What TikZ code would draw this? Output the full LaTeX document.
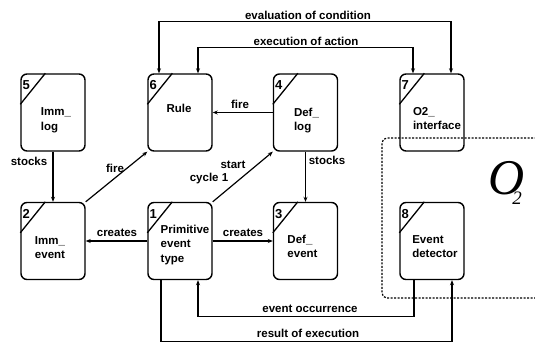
\documentclass[tikz,border=0pt]{standalone}
\usepackage{fontspec}
\setmainfont{Liberation Sans}
\newfontfamily\oserif{Liberation Serif}
\usetikzlibrary{arrows.meta,calc}
\tikzset{
 box/.style={draw, line width=1.4pt, rounded corners=6pt, minimum width=64pt, minimum height=77pt, inner sep=0pt},
 diagline/.style={line width=1.3pt},
 num/.style={font=\fontsize{13}{13}\selectfont\bfseries, inner sep=0pt},
 boxtext/.style={font=\fontsize{11.5}{14.5}\selectfont\bfseries, align=left, inner sep=0pt},
 lab/.style={font=\fontsize{11.5}{14}\selectfont\bfseries, inner sep=0pt},
 conn/.style={line width=1.2pt, -{Stealth[length=5pt,width=4pt]}},
 conntwo/.style={line width=1.2pt, {Stealth[length=5pt,width=4pt]}-{Stealth[length=5pt,width=4pt]}},
 region/.style={line width=1.2pt, dash pattern=on 2pt off 1.5pt, rounded corners=5pt},
}
\newcommand\mkbox[5]{%
 \node[box] (#1) at (#2) {};
 \draw[diagline] ([xshift=25pt]#1.north west) -- ([yshift=-31pt]#1.north west);
 \node[num] at ([xshift=6pt,yshift=-12pt]#1.north west) {#3};
 \node[boxtext] at ($(#1.center)+(#5)$) {#4};
}
\begin{document}
\begin{tikzpicture}[x=1pt,y=-1pt]
\useasboundingbox (0,0) rectangle (535,344);
% O2 region
\draw[region] (540,138) -- (382,138) -- (382,298) -- (540,298);
\node[inner sep=0pt, anchor=base west] (o2) at (488,195) {\oserif\itshape\fontsize{50}{50}\selectfont O\kern-12pt\raisebox{-10pt}{\fontsize{19}{19}\selectfont 2}};
% boxes
\mkbox{b5}{53,112.5}{5}{Imm\_\\log}{3,8}
\mkbox{b6}{180,112.5}{6}{Rule}{-1,-4}
\mkbox{b4}{305.5,112.5}{4}{Def\_\\log}{1,8}
\mkbox{b7}{432,112.5}{7}{O2\_\\interface}{5,6}
\mkbox{b2}{53,241}{2}{Imm\_\\event}{-3,6.5}
\mkbox{b1}{180,241}{1}{Primitive\\event\\type}{5,4}
\mkbox{b3}{305.5,241}{3}{Def\_\\event}{-3,5.5}
\mkbox{b8}{432,241}{8}{Event\\detector}{3,5.5}
% connectors
\draw[conntwo] ([xshift=-21pt]b6.north) -- ++(0,-52) -| ([xshift=19pt]b7.north);
\node[lab] (l1) at (308,15) {evaluation of condition};
\draw[conntwo] ([xshift=18pt]b6.north) -- ++(0,-26) -| ([xshift=-19pt]b7.north);
\node[lab] (l2) at (306,41) {execution of action};
\draw[conn] (b4.west) -- (b6.east);
\node[lab] (l3) at (240,104) {fire};
\draw[conn] (b5.south) -- (b2.north);
\node[lab] (l4) at (29,161) {stocks};
\draw[conn] (b2.north east) -- (b6.south west);
\node[lab] (l5) at (115,168) {fire};
\draw[conn] (b1.north east) -- (b4.south west);
\node[lab] (l6) at (233,165) {start};
\node[lab] (l7) at (209,179) {cycle 1};
\draw[conn] (b4.south) -- (b3.north);
\node[lab] (l8) at (327,160) {stocks};
\draw[conn] (b1.west) -- (b2.east);
\node[lab] (l9) at (117,233) {creates};
\draw[conn] (b1.east) -- (b3.west);
\node[lab] (l10) at (243,233) {creates};
\draw[conn] ([xshift=-18pt]b8.south) -- ++(0,36) -| ([xshift=18pt]b1.south);
\node[lab] (l11) at (310,309) {event occurrence};
\draw[conn] ([xshift=-19pt]b1.south) -- ++(0,61) -| ([xshift=20pt]b8.south);
\node[lab] (l12) at (308,333) {result of execution};
\end{tikzpicture}
\end{document}
